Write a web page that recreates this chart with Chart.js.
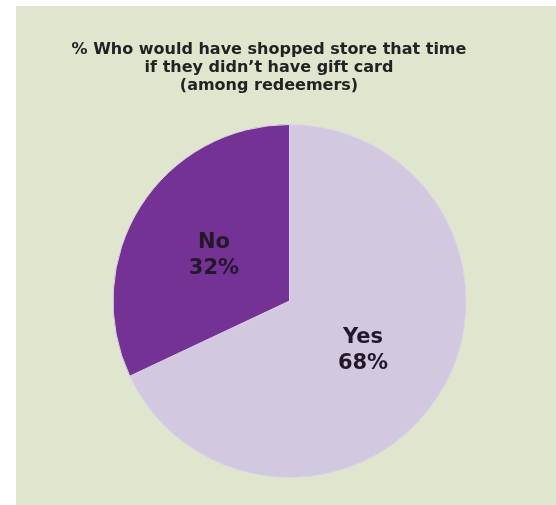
<!DOCTYPE html>
<html>
<head>
<meta charset="utf-8">
<script src="https://cdn.jsdelivr.net/npm/chart.js@4"></script>
<style>
	html, body { margin: 0; padding: 0; background: #ffffff; }
	#panel {
		position: absolute;
		left: 16px;
		top: 6px;
		width: 540px;
		height: 499px;
		background: #dfe6cd;
	}
</style>
</head>
<body>
<div id="panel"><canvas id="giftChart" width="540" height="499"></canvas></div>
<script>
// Chart data
const answers = ["Yes", "No"];
const shares = [68, 32];
const titleLines = [
	"% Who would have shopped store that time",
	"if they didn\u2019t have gift card",
	"(among redeemers)",
];

document.addEventListener("DOMContentLoaded", function () {
	// Title drawn as three centred lines above the pie
	const titleText = {
		id: "titleText",
		afterDraw(chart) {
			const ctx = chart.ctx;
			ctx.save();
			ctx.fillStyle = "#222222";
			ctx.font = "bold 16px 'DejaVu Sans', Verdana, sans-serif";
			ctx.textAlign = "center";
			ctx.textBaseline = "alphabetic";
			titleLines.forEach((line, i) => {
				ctx.fillText(line, 253, 48 + i * 18);
			});
			ctx.restore();
		},
	};

	// Category name and percentage inside each slice
	const sliceLabels = {
		id: "sliceLabels",
		afterDatasetsDraw(chart) {
			const ctx = chart.ctx;
			const meta = chart.getDatasetMeta(0);
			ctx.save();
			ctx.fillStyle = "#23182a";
			ctx.font = "bold 21px 'DejaVu Sans', Verdana, sans-serif";
			ctx.textAlign = "center";
			ctx.textBaseline = "middle";
			meta.data.forEach((arc, i) => {
				const p = arc.getCenterPoint();
				ctx.fillText(answers[i], p.x - 1, p.y - 11);
				ctx.fillText(shares[i] + "%", p.x - 1, p.y + 15);
			});
			ctx.restore();
		},
	};

	const ctx = document.getElementById("giftChart").getContext("2d");
	new Chart(ctx, {
		type: "pie",
		data: {
			labels: answers,
			datasets: [
				{
					data: shares,
					backgroundColor: ["#d2c8e0", "#733294"],
					borderColor: "#dcd3e6",
					borderWidth: 1,
				},
			],
		},
		options: {
			responsive: false,
			animation: false,
			layout: {
				padding: { left: 96, right: 89, top: 118, bottom: 27 },
			},
			plugins: {
				legend: { display: false },
				tooltip: { enabled: false },
			},
		},
		plugins: [titleText, sliceLabels],
	});
});
</script>
</body>
</html>
